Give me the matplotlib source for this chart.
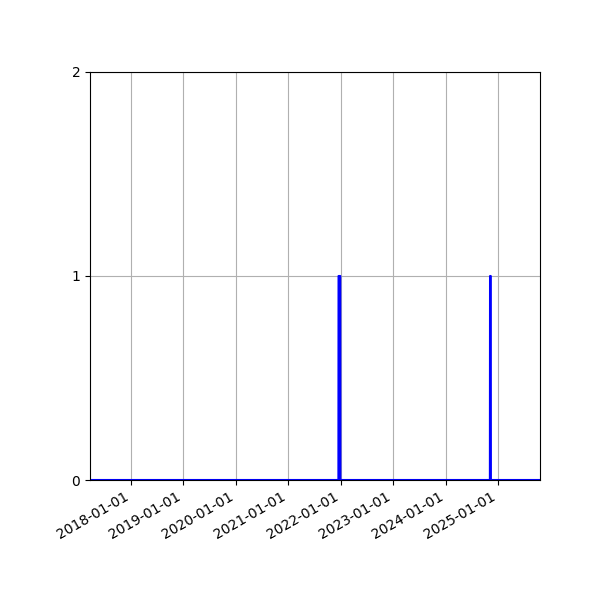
import matplotlib
matplotlib.use("Agg")
import matplotlib.pyplot as plt
import matplotlib.dates as mdates
import pandas as pd

# Series: daily counts, zero everywhere except two short periods
start_date = "2017-03-22"
end_date = "2025-10-20"
event_starts = ["2021-12-17", "2024-11-06"]
event_ends = ["2021-12-29", "2024-11-11"]
event_values = [1, 1]
y_ticks = [0, 1, 2]

dates = pd.date_range(start_date, end_date, freq="D")
values = pd.Series(0, index=dates)
for s, e, v in zip(event_starts, event_ends, event_values):
    values[s:e] = v

fig = plt.figure(figsize=(6, 6), dpi=100)
ax = fig.add_axes([0.15, 0.2, 0.75, 0.68])
ax.plot(values.index, values.values, color="blue", linewidth=1.5)
ax.set_xlim(pd.Timestamp(start_date), pd.Timestamp(end_date))
ax.set_ylim(0, 2)
ax.set_yticks(y_ticks)
ax.xaxis.set_major_locator(mdates.YearLocator())
ax.xaxis.set_major_formatter(mdates.DateFormatter("%Y-%m-%d"))
ax.grid(True)
for lbl in ax.get_xticklabels():
    lbl.set_rotation(30)
    lbl.set_ha("right")
fig.savefig("out.png")
